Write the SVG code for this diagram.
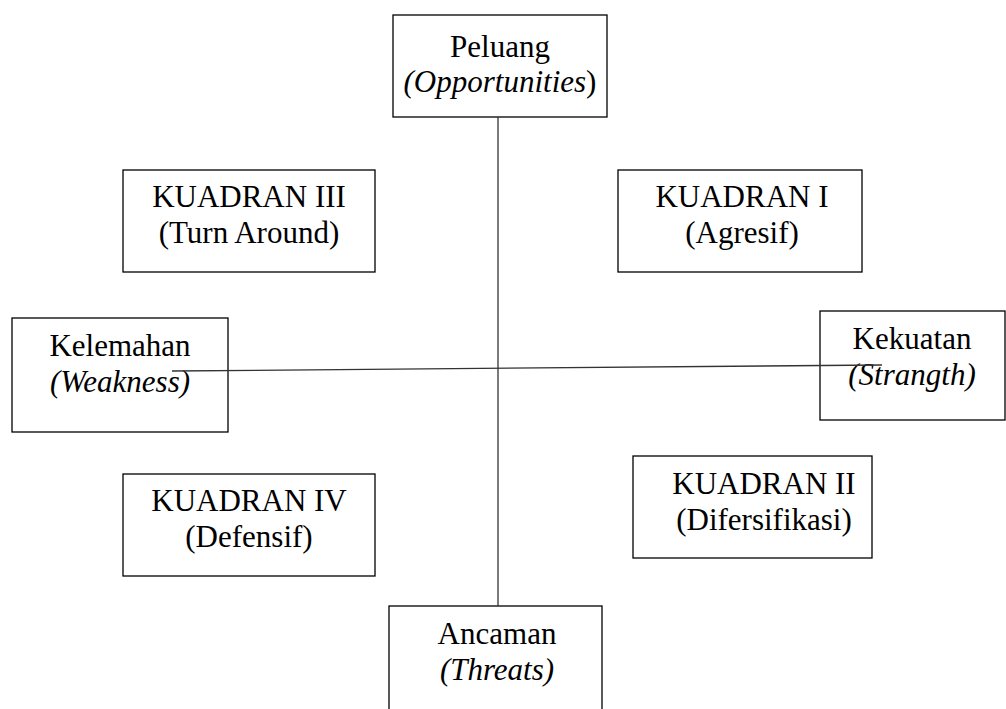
<svg xmlns="http://www.w3.org/2000/svg" width="1006" height="709" viewBox="0 0 1006 709">
<style>
.box{fill:#fff;stroke:#000;stroke-width:1.3}
.t{font-family:"Liberation Serif","Times New Roman",serif;font-size:31px;fill:#000;text-anchor:middle}
.i{font-style:italic}
.ln{stroke:#333;stroke-width:1.3;fill:none}
</style>
<rect width="1006" height="709" fill="#fff"/>
<g id="peluang">
<rect class="box" x="393" y="15" width="214" height="102"/>
<text class="t" x="500" y="57">Peluang</text>
<text class="t" x="500" y="92"><tspan class="i">(Opportunities</tspan>)</text>
</g>
<g id="kuadran3">
<rect class="box" x="123" y="170" width="252" height="102"/>
<text class="t" x="249" y="207">KUADRAN III</text>
<text class="t" x="249" y="243">(Turn Around)</text>
</g>
<g id="kuadran1">
<rect class="box" x="618" y="170" width="244" height="102"/>
<text class="t" x="742" y="207">KUADRAN I</text>
<text class="t" x="742" y="243">(Agresif)</text>
</g>
<g id="kelemahan">
<rect class="box" x="12" y="318" width="216" height="114"/>
<text class="t" x="120" y="356">Kelemahan</text>
<text class="t i" x="120" y="392">(Weakness)</text>
</g>
<g id="kekuatan">
<rect class="box" x="820" y="311" width="185" height="109"/>
<text class="t" x="912" y="349">Kekuatan</text>
<text class="t i" x="912" y="385">(Strangth)</text>
</g>
<g id="kuadran4">
<rect class="box" x="123" y="474" width="252" height="102"/>
<text class="t" x="249" y="511">KUADRAN IV</text>
<text class="t" x="249" y="547">(Defensif)</text>
</g>
<g id="kuadran2">
<rect class="box" x="633" y="456" width="239" height="102"/>
<text class="t" x="764" y="494">KUADRAN II</text>
<text class="t" x="764" y="530">(Difersifikasi)</text>
</g>
<g id="ancaman">
<rect class="box" x="389" y="606" width="213" height="110"/>
<text class="t" x="497" y="644">Ancaman</text>
<text class="t i" x="497" y="680">(Threats)</text>
</g>
<g id="connectors">
<line class="ln" x1="498" y1="117" x2="498" y2="606"/>
<line class="ln" x1="172" y1="371" x2="882" y2="365"/>
</g>
</svg>
